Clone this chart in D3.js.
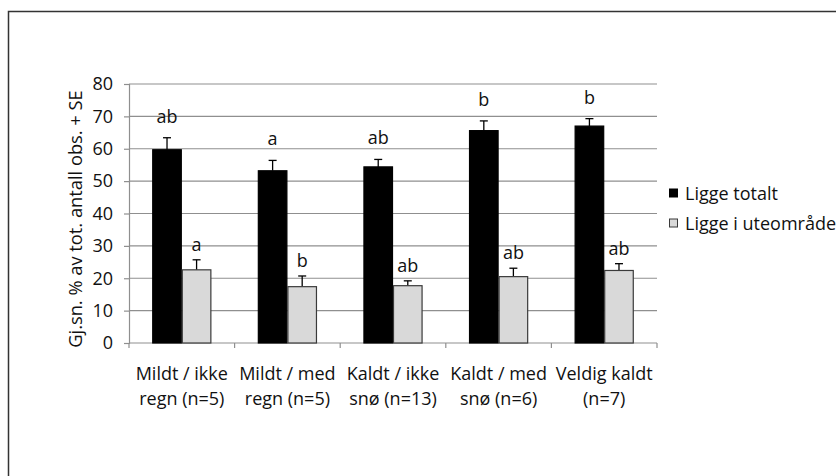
<!DOCTYPE html>
<html>
<head>
<meta charset="utf-8">
<script src="https://cdn.jsdelivr.net/npm/d3@7"></script>
<style>
  html, body { margin: 0; padding: 0; background: #fff; }
  svg { display: block; }
  text { font-family: "Open Sans", sans-serif; fill: #111; }
</style>
</head>
<body>
<svg id="chart" width="836" height="476"></svg>
<script>
// ---- data ----
const categories = [
  ["Mildt / ikke", "regn (n=5)"],
  ["Mildt / med", "regn (n=5)"],
  ["Kaldt / ikke", "snø (n=13)"],
  ["Kaldt / med", "snø (n=6)"],
  ["Veldig kaldt", "(n=7)"]
];
const seriesNames = ["Ligge totalt", "Ligge i uteområde"];
const liggeTotalt = [59.7, 53.2, 54.4, 65.6, 67.0];
const liggeTotaltSE = [3.7, 3.2, 2.3, 3.0, 2.3];
const liggeUte = [22.6, 17.4, 17.7, 20.5, 22.4];
const liggeUteSE = [3.1, 3.3, 1.5, 2.6, 2.1];
const lettersTotalt = ["ab", "a", "ab", "b", "b"];
const lettersUte = ["a", "b", "ab", "ab", "ab"];
const yTicks = [0, 10, 20, 30, 40, 50, 60, 70, 80];
const yTitle = "Gj.sn. % av tot. antall obs. + SE";

// ---- layout ----
const svg = d3.select("#chart");
const mLeft = 129, mRight = 657, mTop = 84, mBottom = 343;
const fills = ["#000000", "#d9d9d9"];
const strokes = ["#000000", "#3a3a3a"];
const labelOffsets = [15, 9];

// outer border
svg.append("path")
  .attr("d", "M8.5,480 L8.5,11.5 L840,11.5")
  .attr("fill", "none").attr("stroke", "#333").attr("stroke-width", 1.5);

const y = d3.scaleLinear().domain([0, 80]).range([mBottom, mTop]);
const x0 = d3.scaleBand().domain(d3.range(categories.length))
  .range([mLeft, mRight]).paddingInner(0.44).paddingOuter(0.22);
const x1 = d3.scaleBand().domain([0, 1]).range([0, x0.bandwidth()]).padding(0);

// gridlines
svg.append("g").selectAll("line").data(yTicks.filter(d => d > 0)).join("line")
  .attr("x1", mLeft).attr("x2", mRight)
  .attr("y1", d => y(d)).attr("y2", d => y(d))
  .attr("stroke", "#8f8f8f").attr("stroke-width", 1.2);

// y axis
const yAxis = d3.axisLeft(y).tickValues(yTicks).tickSize(5).tickPadding(11);
const gy = svg.append("g").attr("transform", `translate(${mLeft},0)`).call(yAxis);
gy.select(".domain").attr("stroke", "#8f8f8f").attr("stroke-width", 1.2);
gy.selectAll(".tick line").attr("stroke", "#8f8f8f").attr("stroke-width", 1.2);
gy.selectAll(".tick text").style("font-family", "Open Sans").style("font-size", "18px").attr("fill", "#111");

// x axis line and boundary ticks
const step = x0.step();
svg.append("line").attr("x1", mLeft).attr("x2", mRight).attr("y1", mBottom).attr("y2", mBottom)
  .attr("stroke", "#8f8f8f").attr("stroke-width", 1.2);
svg.append("g").selectAll("line").data(d3.range(categories.length + 1)).join("line")
  .attr("x1", i => mLeft + i * step).attr("x2", i => mLeft + i * step)
  .attr("y1", mBottom).attr("y2", mBottom + 5)
  .attr("stroke", "#8f8f8f").attr("stroke-width", 1.2);

// x labels
const xl = svg.append("g").selectAll("text").data(categories).join("text")
  .attr("text-anchor", "middle")
  .attr("x", (d, i) => x0(i) + x0.bandwidth() / 2)
  .attr("y", 380)
  .style("font-size", "18px");
xl.selectAll("tspan").data(d => d).join("tspan")
  .attr("x", function() { return d3.select(this.parentNode).attr("x"); })
  .attr("dy", (d, i) => i === 0 ? 0 : 25)
  .text(d => d);

// bars
const series = [
  { vals: liggeTotalt, se: liggeTotaltSE, letters: lettersTotalt },
  { vals: liggeUte, se: liggeUteSE, letters: lettersUte }
];
series.forEach((s, si) => {
  const g = svg.append("g");
  const data = s.vals.map((v, i) => ({ i, v, se: s.se[i], l: s.letters[i] }));
  const bx = d => x0(d.i) + x1(si);
  const cx = d => bx(d) + x1.bandwidth() / 2;
  g.selectAll("line.eb").data(data).join("line")
    .attr("x1", cx).attr("x2", cx)
    .attr("y1", d => y(d.v)).attr("y2", d => y(d.v + d.se))
    .attr("stroke", "#000").attr("stroke-width", 1.3);
  g.selectAll("line.cap").data(data).join("line")
    .attr("x1", d => cx(d) - 4).attr("x2", d => cx(d) + 4)
    .attr("y1", d => y(d.v + d.se)).attr("y2", d => y(d.v + d.se))
    .attr("stroke", "#000").attr("stroke-width", 1.3);
  g.selectAll("rect").data(data).join("rect")
    .attr("x", d => bx(d) + 0.5).attr("width", x1.bandwidth() - 1)
    .attr("y", d => y(d.v)).attr("height", d => y(0) - y(d.v))
    .attr("fill", fills[si]).attr("stroke", strokes[si]).attr("stroke-width", 1.2);
  g.selectAll("text").data(data).join("text")
    .attr("text-anchor", "middle")
    .attr("x", cx)
    .attr("y", d => y(d.v + d.se) - labelOffsets[si])
    .style("font-size", "18px")
    .text(d => d.l);
});

// y title
svg.append("text")
  .attr("transform", `translate(82,219) rotate(-90)`)
  .attr("text-anchor", "middle")
  .style("font-size", "18.3px")
  .text(yTitle);

// legend
const lg = svg.append("g").selectAll("g").data(seriesNames).join("g")
  .attr("transform", (d, i) => `translate(669,${193 + i * 30})`);
lg.append("rect").attr("x", 0.5).attr("y", -4).attr("width", 8).attr("height", 8)
  .attr("fill", (d, i) => fills[i]).attr("stroke", (d, i) => strokes[i]).attr("stroke-width", 1);
lg.append("text").attr("x", 16).attr("y", 6.5).style("font-size", "18px").text(d => d);
</script>
</body>
</html>
